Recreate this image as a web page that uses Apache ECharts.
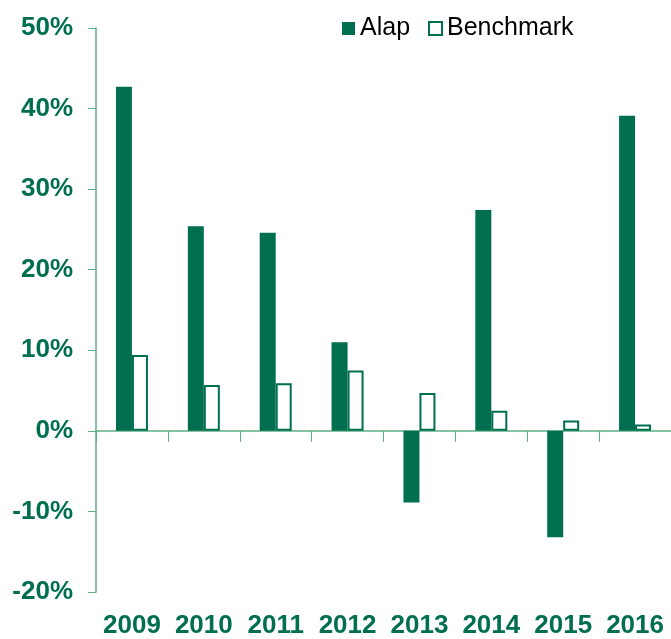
<!DOCTYPE html>
<html>
<head>
<meta charset="utf-8">
<script src="https://cdn.jsdelivr.net/npm/echarts@6/dist/echarts.min.js"></script>
<style>
  html, body { margin: 0; padding: 0; background: #fff; }
  #main { width: 671px; height: 639px; }
</style>
</head>
<body>
<div id="main"></div>
<script>
const years = ['2009', '2010', '2011', '2012', '2013', '2014', '2015', '2016']
const alap = [42.7, 25.4, 24.6, 11.0, -8.9, 27.4, -13.2, 39.1]
const benchmark = [9.4, 5.7, 5.9, 7.5, 4.7, 2.5, 1.3, 0.8]

const green = '#006f4f'
const axisGreen = '#5fae86'

let myChart = echarts.init(document.getElementById('main'))
let option = {
    animation: false,
    grid: { left: 96, right: 0, top: 28, bottom: 43 },
    legend: {
        left: 337,
        top: 11,
        itemWidth: 13,
        itemHeight: 13,
        itemGap: 18,
        icon: 'rect',
        textStyle: { color: '#000', fontSize: 25, fontFamily: 'Liberation Sans' },
        data: ['Alap', 'Benchmark']
    },
    xAxis: [
        {
            // axis line at zero with ticks between categories
            type: 'category',
            data: years,
            axisLine: { onZero: true, lineStyle: { color: axisGreen, width: 1.5 } },
            axisTick: { show: true, length: 11, lineStyle: { color: axisGreen } },
            axisLabel: { show: false }
        },
        {
            // labels along the bottom
            type: 'category',
            data: years,
            position: 'bottom',
            axisLine: { show: false, onZero: false },
            axisTick: { show: false },
            axisLabel: {
                interval: 0,
                margin: 21,
                color: green,
                fontSize: 26,
                fontWeight: 'bold',
                fontFamily: 'Liberation Sans'
            }
        }
    ],
    yAxis: {
        type: 'value',
        min: -20,
        max: 50,
        interval: 10,
        axisLine: { show: true, lineStyle: { color: axisGreen, width: 1.5 } },
        axisTick: { show: true, length: 8, lineStyle: { color: axisGreen } },
        splitLine: { show: false },
        axisLabel: {
            margin: 23,
            formatter: '{value}%',
            color: green,
            fontSize: 26,
            fontWeight: 'bold',
            fontFamily: 'Liberation Sans'
        }
    },
    series: [
        {
            name: 'Alap',
            type: 'bar',
            data: alap,
            barWidth: 16,
            barGap: '0%',
            itemStyle: { color: green }
        },
        {
            name: 'Benchmark',
            type: 'bar',
            data: benchmark,
            barWidth: 16,
            itemStyle: { color: '#fff', borderColor: green, borderWidth: 2 }
        }
    ]
}
myChart.setOption(option)
</script>
</body>
</html>
